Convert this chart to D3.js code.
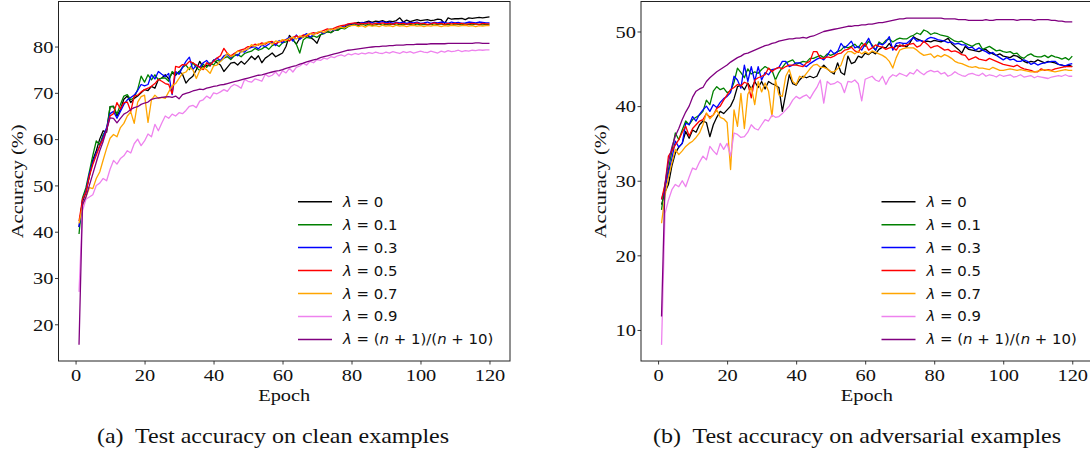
<!DOCTYPE html>
<html><head><meta charset="utf-8">
<script src="https://cdn.jsdelivr.net/npm/d3@7"></script>
<style>body{margin:0;background:#fff}svg{display:block}</style>
</head><body>
<svg id="chart" width="1090" height="455"></svg>
<script>
// ---------------- DATA ----------------
const epochs = d3.range(1, 121);
const seriesLabels = ["λ = 0", "λ = 0.1", "λ = 0.3", "λ = 0.5", "λ = 0.7", "λ = 0.9", "λ = (n + 1)/(n + 10)"];
const seriesColors = ["#000000", "#008000", "#0000ff", "#ff0000", "#ffa500", "#ee82ee", "#800080"];
const xTicks = [0, 20, 40, 60, 80, 100, 120];
const yTicksClean = [20, 30, 40, 50, 60, 70, 80];
const yTicksAdv = [10, 20, 30, 40, 50];
const captions = ["(a)  Test accuracy on clean examples", "(b)  Test accuracy on adversarial examples"];
const xLabel = "Epoch";
const yLabel = "Accuracy (%)";

// clean accuracy
const cleanL0 = [41.0,46.5,48.5,52.0,55.5,57.5,60.0,61.8,61.5,67.0, 67.1,65.0,66.4,68.6,69.3,67.9,68.8,69.3,70.0,70.7,
 70.5,71.4,71.0,72.9,73.2,73.9,73.0,74.3,73.8,74.6, 74.0,72.1,73.0,73.6,75.0,76.8,75.5,76.0,75.8,77.1,
 76.5,76.0,74.6,75.5,76.4,76.6,76.0,76.8,76.2,77.0, 77.9,77.2,78.0,76.5,77.5,78.0,78.6,77.8,78.2,78.6,
 80.0,82.4,81.5,80.5,81.8,82.0,82.5,82.0,81.5,80.7, 82.5,83.0,83.2,83.0,83.5,83.6,84.0,84.2,84.5,84.8,
 85.0,85.2,85.0,85.3,85.5,85.2,85.5,85.4,85.6,85.3, 85.5,85.4,85.6,86.2,85.3,85.7,85.4,85.6,85.8,85.6,
 85.7,85.8,85.6,85.7,85.9,85.8,85.0,86.2,85.9,86.0, 86.0,86.1,85.8,86.2,86.1,86.2,86.3,86.2,86.3,86.4];
const cleanL01 = [39.5,47.3,49.5,53.0,56.5,59.6,58.8,61.0,62.1,67.0, 67.0,65.4,67.5,69.3,69.6,68.5,69.0,70.7,73.6,72.3,
 73.9,72.8,73.9,72.8,73.2,73.2,72.5,74.6,74.0,74.5, 75.5,76.0,75.0,76.5,75.5,74.8,76.2,75.5,76.5,76.0,
 77.0,76.8,77.5,77.8,77.2,78.0,78.3,77.8,78.5,78.8, 79.0,79.6,79.2,79.5,80.0,79.4,80.2,80.5,80.0,80.8,
 81.0,81.8,81.5,80.5,78.6,81.4,82.0,81.8,82.3,82.0, 82.6,82.8,83.2,83.0,83.6,83.5,84.0,83.8,84.3,84.6,
 84.8,84.5,84.9,84.6,84.8,84.5,84.7,84.9,84.6,84.8, 84.7,84.9,84.6,84.8,84.7,84.9,84.8,84.6,84.9,84.7,
 84.8,84.7,84.9,84.6,84.8,84.9,84.7,84.8,84.6,84.9, 84.8,84.7,84.9,84.8,84.7,84.9,84.8,84.7,84.8,84.7];
const cleanL03 = [41.0,46.8,48.8,52.5,55.0,57.0,58.5,60.5,62.5,65.5, 66.0,64.5,66.0,67.5,68.5,69.0,69.5,70.5,71.8,71.5,
 71.8,73.9,73.0,74.6,74.0,73.5,74.2,69.6,74.6,74.0, 75.5,76.8,77.7,75.0,76.0,75.5,76.5,77.0,76.0,77.0,
 77.5,77.0,78.0,78.3,77.5,78.5,78.0,79.0,78.8,79.5, 79.8,80.0,79.5,80.3,80.0,80.5,81.0,80.2,81.3,80.8,
 81.5,82.0,81.2,82.5,81.5,82.3,82.8,82.0,82.6,83.0, 83.2,82.8,83.5,83.8,83.5,84.0,84.2,84.5,84.8,84.9,
 85.0,84.8,85.2,85.0,85.3,85.1,85.0,85.2,85.4,85.1, 85.3,85.0,85.2,85.1,85.3,85.0,85.2,85.1,85.3,85.0,
 85.1,85.3,85.0,85.2,85.1,85.3,85.2,85.0,85.3,85.1, 85.2,85.0,85.1,85.3,85.2,85.1,85.3,85.2,85.1,85.1];
const cleanL05 = [42.3,47.0,48.5,52.0,54.5,56.5,58.5,60.0,62.0,65.0, 65.5,67.9,66.5,67.9,68.0,66.0,69.3,69.5,70.2,70.7,
 71.0,71.4,72.0,72.9,72.5,72.0,71.8,69.8,75.7,75.5, 76.1,76.0,76.8,76.5,76.0,75.5,75.0,76.5,76.0,76.8,
 77.5,78.0,79.6,78.5,78.0,78.5,79.0,79.3,79.5,80.0, 80.0,80.5,80.3,80.8,80.5,81.0,81.1,80.6,81.0,81.2,
 81.5,81.2,82.0,82.3,82.0,82.5,82.2,82.8,83.0,82.8, 83.2,83.5,83.8,83.6,84.0,84.3,84.5,84.6,84.9,85.0,
 85.1,84.8,85.0,84.9,85.1,84.8,85.0,84.9,85.1,84.9, 85.0,84.8,85.1,84.9,85.0,84.8,85.0,84.9,85.1,84.9,
 85.0,84.8,84.9,85.1,84.9,85.0,84.8,85.0,84.9,85.0, 84.9,85.0,84.8,84.9,85.0,84.9,84.8,85.0,84.9,84.9];
const cleanL07 = [41.8,45.5,47.5,49.5,49.3,51.5,52.9,55.5,58.0,60.2, 61.0,60.5,62.5,63.4,65.0,65.9,63.4,68.0,69.2,69.5,
 63.6,68.5,69.5,68.8,69.0,68.8,70.2,71.5,72.0,73.1, 74.2,74.5,75.5,75.0,73.1,74.8,75.4,75.0,74.2,75.8,
 76.0,76.8,77.5,78.6,77.8,78.2,79.0,78.8,79.2,79.5, 80.4,80.0,80.6,80.3,80.8,81.0,80.5,81.2,81.0,81.5,
 81.3,81.8,82.0,81.6,82.3,82.0,82.5,82.8,82.5,83.0, 83.3,83.0,83.5,83.8,83.6,84.0,84.2,84.0,84.4,84.5,
 84.6,84.3,84.5,84.2,84.6,84.4,84.5,84.3,84.6,84.4, 84.5,84.3,84.6,84.4,84.5,84.3,84.5,84.6,84.4,84.5,
 84.3,84.5,84.4,84.6,84.5,84.3,84.5,84.4,84.6,84.5, 84.4,84.5,84.6,84.4,84.5,84.3,84.5,84.4,84.5,84.5];
const cleanL09 = [27.0,44.5,47.0,47.5,48.0,50.0,50.5,51.5,51.0,53.5, 55.4,54.6,55.8,56.4,57.5,57.0,59.0,60.0,58.6,59.6,
 61.1,60.5,63.2,61.8,63.5,65.0,64.5,65.4,65.0,65.7, 65.5,66.2,67.1,67.3,66.8,68.2,68.5,69.3,68.8,70.0,
 69.8,70.2,70.7,70.3,71.3,71.8,71.5,71.0,72.9,72.5, 72.3,73.0,72.8,72.5,74.0,73.5,73.8,74.5,73.6,74.8,
 74.3,75.3,74.5,75.5,75.8,76.4,76.0,76.8,76.5,77.2, 77.0,77.5,77.3,77.8,77.6,78.0,78.2,77.9,78.4,78.2,
 78.5,78.3,78.6,78.4,78.7,78.5,78.8,78.6,78.5,78.8, 78.6,78.9,78.7,78.5,78.9,78.7,78.9,78.6,78.8,79.0,
 78.8,78.7,79.0,78.8,78.6,79.0,78.8,79.1,78.9,79.0, 79.2,78.9,79.1,79.0,79.2,79.1,79.3,79.2,79.3,79.3];
const cleanLSched = [15.6,45.8,47.5,50.0,52.5,55.0,57.5,59.5,62.0,64.6, 64.5,63.5,64.5,65.4,65.8,66.4,66.8,67.0,67.5,67.8,
 68.0,68.6,68.8,68.9,69.0,69.1,69.2,69.0,69.3,68.7, 69.6,69.9,70.1,70.4,70.6,70.8,70.7,71.0,71.2,71.4,
 71.5,71.7,71.8,72.0,72.2,72.4,72.6,72.8,73.0,73.2, 73.4,73.6,73.8,73.9,74.1,74.3,74.5,74.7,74.8,75.0,
 75.3,75.5,75.7,75.9,76.2,76.4,76.7,76.9,77.1,77.3, 77.6,77.8,78.0,78.2,78.4,78.6,78.8,79.0,79.2,79.3,
 79.4,79.5,79.6,79.7,79.8,79.9,80.0,80.0,80.1,80.1, 80.2,80.2,80.3,80.3,80.3,80.4,80.4,80.4,80.5,80.5,
 80.5,80.5,80.6,80.6,80.6,80.6,80.6,80.7,80.7,80.7, 80.7,80.7,80.7,80.7,80.7,80.8,80.8,80.7,80.7,80.7];

// adversarial accuracy
const advL0 = [26.8,28.5,29.5,32.0,33.7,34.5,35.0,36.6,35.7,36.8, 36.5,37.5,38.0,37.8,35.9,37.5,38.5,39.3,39.0,39.5,
 40.0,41.0,42.6,42.8,42.2,43.1,42.3,43.3,42.5,43.3, 42.3,43.3,43.0,42.8,42.5,39.3,41.7,44.2,43.0,42.8,
 43.5,44.0,43.8,44.0,43.8,44.0,45.0,45.5,45.0,44.6, 44.3,45.8,44.5,44.2,46.7,45.7,45.9,46.7,46.5,47.1,
 46.9,47.3,47.0,47.6,47.9,47.8,48.4,47.7,48.1,48.0, 48.2,47.9,48.5,49.3,49.0,48.8,48.6,48.7,48.6,48.8,
 48.7,48.6,48.8,49.1,48.4,48.0,47.6,47.1,48.0,47.6, 47.5,47.4,47.3,47.5,47.6,47.2,47.0,46.8,47.0,46.7,
 46.6,46.5,46.8,46.7,46.4,46.0,45.8,46.0,45.9,46.2, 46.0,45.8,46.0,45.9,45.8,45.6,45.5,45.3,45.5,45.3];
const advL01 = [26.1,29.5,31.5,34.0,36.4,35.5,36.8,38.0,37.5,38.2, 38.5,38.8,39.3,40.8,40.2,42.0,42.6,42.2,42.4,41.8,
 42.0,43.2,45.1,44.5,43.8,45.0,44.3,44.6,44.4,44.9, 45.3,45.0,44.8,43.5,44.5,45.2,45.8,46.0,46.2,45.6,
 45.8,46.0,45.9,46.4,46.4,46.6,46.8,46.5,47.0,46.8, 47.0,47.3,47.5,48.0,47.8,48.0,48.3,47.8,48.5,48.0,
 48.7,48.2,47.5,48.6,48.3,48.8,49.0,48.6,48.9,49.1, 49.0,49.0,49.3,49.5,49.8,49.6,50.2,50.0,49.6,49.8,
 49.7,49.5,49.4,49.3,49.0,48.7,48.6,48.7,48.4,48.2, 48.0,48.3,48.4,47.6,47.8,48.0,47.7,47.4,47.5,47.3,
 47.2,47.3,47.0,47.1,46.6,46.4,46.8,47.0,46.7,46.6, 46.6,46.8,46.5,46.8,46.6,46.5,46.3,46.5,46.2,46.7];
const advL03 = [27.5,29.0,31.0,33.0,35.3,34.5,35.0,37.7,37.5,38.6, 38.0,38.9,39.5,40.0,39.3,40.2,39.8,40.5,41.0,41.3,
 41.8,44.0,43.5,42.4,45.5,43.3,45.3,43.3,45.3,43.5, 44.5,44.2,44.9,45.0,45.2,46.0,46.0,45.3,45.5,45.8,
 45.8,45.5,45.3,45.7,46.0,46.3,46.5,46.2,46.8,47.5, 47.0,47.3,48.4,47.8,48.2,48.7,47.8,48.0,47.5,48.3,
 49.1,48.0,47.5,48.4,48.2,48.6,49.3,47.5,48.4,48.5, 48.4,48.4,48.8,49.2,48.7,48.8,48.6,49.0,49.2,49.1,
 48.9,48.8,48.7,48.5,48.6,48.3,48.4,48.2,48.2,47.8, 47.9,47.5,47.8,47.5,47.3,47.0,47.2,46.8,46.5,46.2,
 46.5,46.2,46.3,46.0,46.0,46.2,46.0,45.6,45.8,45.5, 45.7,45.8,45.9,46.0,46.0,45.6,45.5,45.4,45.6,45.7];
const advL05 = [27.5,29.5,33.3,34.0,34.8,35.5,36.5,37.3,36.0,37.0, 37.5,38.0,38.2,39.0,38.5,38.8,39.7,40.0,40.8,41.5,
 42.2,42.5,42.9,42.7,43.2,43.0,41.1,43.5,43.8,44.0, 44.2,45.1,44.6,45.0,45.2,45.0,45.3,45.5,45.5,45.5,
 45.4,45.3,45.8,46.0,47.3,47.3,46.4,46.4,46.6,46.5, 46.7,47.0,47.1,47.5,47.6,47.9,47.4,47.2,48.0,48.4,
 47.5,47.8,48.2,48.0,47.9,47.6,47.8,47.9,47.5,48.2, 48.0,48.2,48.3,48.4,47.9,48.1,48.7,48.3,47.8,48.0,
 48.1,47.8,47.5,47.6,47.3,47.4,47.2,46.9,46.8,46.2, 46.4,46.6,46.3,46.2,46.1,46.4,46.2,46.0,45.8,45.6,
 45.5,45.4,45.3,45.5,45.2,45.0,44.9,44.8,44.6,44.6, 45.0,44.8,44.9,44.8,45.0,45.1,45.2,45.3,45.3,45.3];
const advL07 = [24.3,28.0,30.5,32.4,34.2,33.5,34.0,34.6,35.0,35.3, 35.8,36.4,37.5,39.1,38.3,38.8,39.5,38.5,38.3,37.8,
 31.5,39.5,37.3,41.7,37.0,41.6,42.5,40.2,43.3,41.9, 43.1,42.0,38.6,43.5,41.5,41.3,44.0,44.9,43.3,42.9,
 44.0,43.8,44.4,45.0,45.5,45.6,45.2,45.2,45.0,44.6, 44.6,45.0,45.5,46.8,47.3,47.3,47.0,47.4,47.0,47.3,
 47.0,47.4,47.2,47.0,46.8,46.5,46.0,45.1,46.5,47.5, 47.7,47.8,47.8,47.8,47.5,47.1,46.8,46.9,47.0,46.5,
 46.8,46.6,46.9,46.7,46.4,46.0,45.8,45.7,45.5,45.3, 45.2,45.3,45.1,45.1,45.0,44.9,45.2,45.0,44.8,44.8,
 44.9,45.0,44.9,44.8,44.9,44.8,44.7,44.6,44.6,44.7, 44.8,44.9,44.8,44.7,44.6,44.7,44.8,44.9,44.8,44.8];
const advL09 = [8.0,25.6,27.4,28.8,29.5,29.2,30.0,29.2,30.5,31.7, 31.5,32.5,33.3,32.8,34.6,34.0,33.5,35.0,34.2,35.0,
 33.3,36.4,36.2,35.8,35.9,36.5,37.5,37.0,36.8,37.5, 38.2,38.0,38.8,38.5,38.6,39.0,39.5,40.0,40.8,41.3,
 41.0,41.3,41.5,41.0,41.8,42.5,43.5,40.4,43.3,42.9, 43.0,43.3,43.0,41.8,43.3,43.2,43.5,43.0,40.7,43.6,
 43.8,44.0,43.5,43.3,44.0,42.9,43.8,44.2,44.0,44.4, 44.2,44.0,44.5,44.3,44.9,44.5,44.2,44.6,44.8,44.6,
 44.7,44.3,44.5,44.0,44.2,44.6,44.3,44.1,44.0,44.3, 44.4,44.2,44.1,44.4,44.0,44.2,44.1,43.9,44.2,44.0,
 44.1,44.2,43.9,44.0,44.2,43.9,44.0,44.1,43.8,44.0, 43.9,43.8,43.7,43.9,44.0,44.1,44.0,44.2,44.0,44.0];
const advLSched = [11.8,29.5,32.5,34.5,36.0,37.0,38.2,39.2,40.0,41.2, 42.0,42.3,42.5,43.3,43.8,44.2,44.6,44.9,45.2,45.5,
 45.9,46.2,46.5,46.7,47.0,47.1,47.3,47.5,47.7,47.9, 48.1,48.2,48.4,48.5,48.7,48.8,48.9,49.0,49.0,49.1,
 49.1,49.2,49.1,49.3,49.4,49.6,49.8,50.0,50.1,50.2, 50.3,50.4,50.5,50.6,50.7,50.7,50.8,50.8,50.9,50.9,
 51.0,51.0,51.1,51.2,51.2,51.3,51.4,51.5,51.6,51.7, 51.7,51.8,51.8,51.8,51.8,51.8,51.8,51.8,51.8,51.8,
 51.8,51.8,51.7,51.7,51.7,51.7,51.6,51.6,51.6,51.5, 51.5,51.5,51.5,51.5,51.6,51.5,51.5,51.6,51.6,51.6,
 51.6,51.6,51.6,51.5,51.6,51.6,51.6,51.6,51.5,51.6, 51.6,51.6,51.6,51.5,51.5,51.4,51.4,51.3,51.3,51.3];

const cleanSeries = [cleanL0, cleanL01, cleanL03, cleanL05, cleanL07, cleanL09, cleanLSched];
const advSeries = [advL0, advL01, advL03, advL05, advL07, advL09, advLSched];

// ---------------- LAYOUT ----------------
const svg = d3.select("#chart");
const SERIF = "'Liberation Serif','Times New Roman',serif";
const SANS = "'DejaVu Sans',sans-serif";
const STRETCH = 1.2;      // horizontal stretch of the figure text
const LEG_STRETCH = 1.065;

const panels = [
  {x0: 58.5, x1: 510, y0: 1.5, y1: 361, xDom: [-4.95, 125.95], yDom: [12.07, 89.73], yTicks: yTicksClean,
   data: cleanSeries, caption: captions[0], capX: 273, yLabX: 23, legX: 298},
  {x0: 641, x1: 1092.8, y0: 1.5, y1: 361, xDom: [-4.95, 125.95], yDom: [5.84, 54.02], yTicks: yTicksAdv,
   data: advSeries, caption: captions[1], capX: 857, yLabX: 606, legX: 881.5}
];

const legRowY0 = 201.7, legRowStep = 22.95;

function italicParts(s) {
  // split into runs: λ and n italic
  const parts = [];
  for (const ch of s) {
    const it = (ch === "λ" || ch === "n");
    if (parts.length && parts[parts.length-1].it === it) parts[parts.length-1].t += ch;
    else parts.push({t: ch, it});
  }
  return parts;
}

panels.forEach(p => {
  const x = d3.scaleLinear().domain(p.xDom).range([p.x0, p.x1]);
  const y = d3.scaleLinear().domain(p.yDom).range([p.y1, p.y0]);
  const g = svg.append("g");

  // lines
  const line = d3.line().x((d, i) => x(epochs[i])).y(d => y(d));
  p.data.forEach((arr, k) => {
    g.append("path").datum(arr).attr("d", line)
      .attr("fill", "none").attr("stroke", seriesColors[k])
      .attr("stroke-width", 1.3).attr("stroke-linejoin", "round");
  });

  // axes
  const ax = g.append("g").attr("transform", `translate(0,${p.y1})`)
    .call(d3.axisBottom(x).tickValues(xTicks).tickSize(3.5).tickSizeOuter(0).tickPadding(4));
  const ay = g.append("g").attr("transform", `translate(${p.x0},0)`)
    .call(d3.axisLeft(y).tickValues(p.yTicks).tickSize(3.5).tickSizeOuter(0).tickPadding(2));
  [ax, ay].forEach(a => {
    a.select(".domain").remove();
    a.selectAll(".tick line").attr("stroke", "#222").attr("stroke-width", 0.9);
    a.selectAll(".tick text").attr("font-family", SERIF).attr("font-size", 17).attr("fill", "#111");
  });
  ax.selectAll(".tick text").attr("transform", `scale(${STRETCH},1)`).attr("y", 7.5).attr("dy", "0.71em");
  ay.selectAll(".tick text").attr("transform", `scale(${STRETCH},1)`).attr("x", -5 / STRETCH).attr("dy", "0.34em");

  // frame (spines)
  g.append("rect").attr("x", p.x0).attr("y", p.y0)
    .attr("width", p.x1 - p.x0).attr("height", p.y1 - p.y0)
    .attr("fill", "none").attr("stroke", "#222").attr("stroke-width", 1);

  // axis labels
  g.append("text").attr("transform", `translate(${(p.x0 + p.x1) / 2},401) scale(${STRETCH},1)`)
    .attr("text-anchor", "middle").attr("font-family", SERIF).attr("font-size", 17).attr("fill", "#111")
    .text(xLabel);
  g.append("text").attr("transform", `translate(${p.yLabX},${(p.y0 + p.y1) / 2}) rotate(-90) scale(${STRETCH},1)`)
    .attr("text-anchor", "middle").attr("font-family", SERIF).attr("font-size", 17).attr("fill", "#111")
    .text(yLabel);

  // caption
  g.append("text").attr("transform", `translate(${p.capX},443) scale(${STRETCH},1)`)
    .attr("text-anchor", "middle").attr("font-family", SERIF).attr("font-size", 20).attr("fill", "#111")
    .attr("xml:space", "preserve").style("white-space", "pre")
    .text(p.caption);

  // legend
  const leg = g.append("g");
  seriesLabels.forEach((lab, k) => {
    const ly = legRowY0 + k * legRowStep;
    leg.append("line").attr("x1", p.legX).attr("x2", p.legX + 34).attr("y1", ly).attr("y2", ly)
      .attr("stroke", seriesColors[k]).attr("stroke-width", 1.5);
    const t = leg.append("text").attr("transform", `translate(${p.legX + 45},${ly + 5}) scale(${LEG_STRETCH},1)`)
      .attr("font-family", SANS).attr("font-size", 14).attr("fill", "#111")
      .style("white-space", "pre");
    italicParts(lab).forEach(part => {
      t.append("tspan").attr("font-style", part.it ? "italic" : "normal").text(part.t);
    });
  });
});
</script>
</body></html>
